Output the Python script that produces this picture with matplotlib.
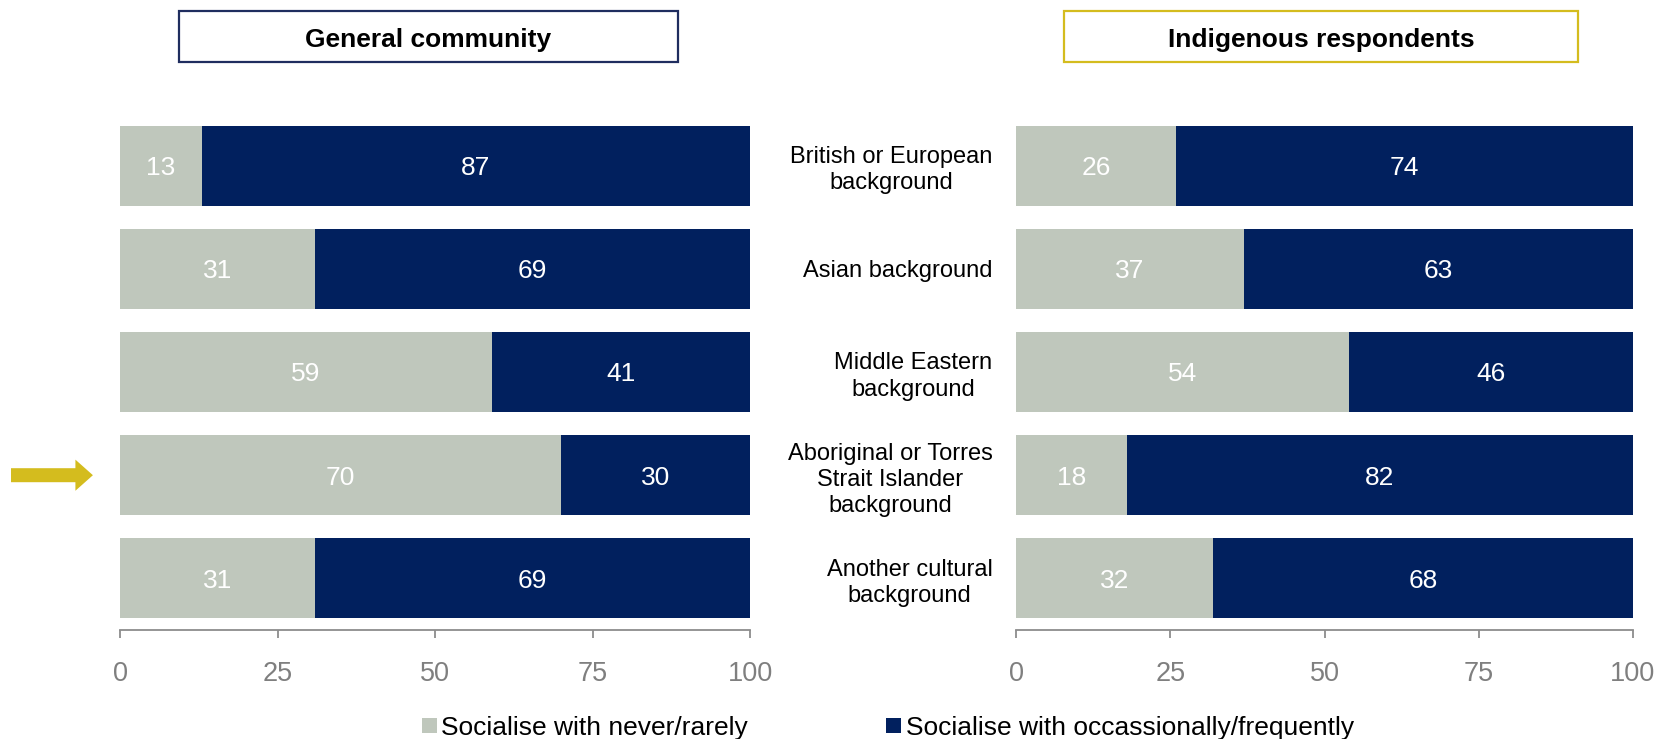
import matplotlib
matplotlib.use("Agg")
import matplotlib.pyplot as plt
from matplotlib.patches import Rectangle

plt.rcParams['font.family'] = ['Liberation Sans', 'DejaVu Sans']

categories = [
    "British or European\nbackground",
    "Asian background",
    "Middle Eastern\nbackground",
    "Aboriginal or Torres\nStrait Islander\nbackground",
    "Another cultural\nbackground",
]
general_never = [13, 31, 59, 70, 31]
general_often = [87, 69, 41, 30, 69]
indigenous_never = [26, 37, 54, 18, 32]
indigenous_often = [74, 63, 46, 82, 68]
xticks = [0, 25, 50, 75, 100]
panel_titles = ["General community", "Indigenous respondents"]
legend_labels = ["Socialise with never/rarely", "Socialise with occassionally/frequently"]

GREY = "#BFC7BC"
NAVY = "#01205E"
GOLD = "#D4BC1E"
AXIS_GREY = "#8C8C8C"

W, H = 1668, 739
fig = plt.figure(figsize=(W / 100, H / 100), dpi=100)


def fx(px):
    return px / W


def fy(py):
    return 1 - py / H


ax_bottom = fy(630)
ax_top = fy(114)
ax_left = fig.add_axes([fx(120), ax_bottom, fx(750) - fx(120), ax_top - ax_bottom])
ax_right = fig.add_axes([fx(1016), ax_bottom, fx(1633) - fx(1016), ax_top - ax_bottom])

y = list(range(len(categories)))
bar_h = 0.776

for ax, never, often in [(ax_left, general_never, general_often),
                         (ax_right, indigenous_never, indigenous_often)]:
    b1 = ax.barh(y, never, height=bar_h, color=GREY)
    b2 = ax.barh(y, often, left=never, height=bar_h, color=NAVY)
    texts = ax.bar_label(b1, labels=[str(v) for v in never], label_type='center',
                         color='white', fontsize=19)
    texts += ax.bar_label(b2, labels=[str(v) for v in often], label_type='center',
                          color='white', fontsize=19)
    for t in texts:
        t.set_verticalalignment('center_baseline')
    ax.set_xlim(0, 100)
    ax.set_ylim(4.5, -0.5)
    ax.set_xticks(xticks)
    ax.set_xticklabels([str(t) for t in xticks])
    for s in ['top', 'right', 'left']:
        ax.spines[s].set_visible(False)
    ax.spines['bottom'].set_color(AXIS_GREY)
    ax.spines['bottom'].set_linewidth(1.3)
    ax.tick_params(axis='x', direction='out', length=5.5, width=1.3,
                   color=AXIS_GREY, labelcolor="#7F7F7F", labelsize=19.5, pad=17)
    ax.tick_params(axis='y', length=0)

ax_left.set_yticks([])
ax_right.set_yticks(y)
ax_right.set_yticklabels(categories, fontsize=17, multialignment='center',
                         linespacing=1.25)
ax_right.tick_params(axis='y', pad=17)

# Arrow highlighting the Aboriginal / Torres Strait Islander row
ax_left.annotate('', xy=(-4.3, 3), xytext=(-17.3, 3), annotation_clip=False,
                 arrowprops=dict(arrowstyle="simple,head_length=0.45,head_width=0.8,tail_width=0.36",
                                 mutation_scale=28, color=GOLD, lw=0,
                                 shrinkA=0, shrinkB=0))

# Panel title boxes
for (x0, x1, col), title in zip([(179, 678, "#1F2D5F"), (1064, 1578, GOLD)], panel_titles):
    fig.patches.append(Rectangle((fx(x0), fy(62)), fx(x1) - fx(x0), fy(11) - fy(62),
                                 transform=fig.transFigure, fill=False,
                                 edgecolor=col, linewidth=1.6))
    fig.text(fx((x0 + x1) / 2), fy(39.5), title, ha='center', va='center',
             fontsize=19, fontweight='bold', color='black')

# Legend
for (sx, tx, col), lab in zip([(422, 441, GREY), (886, 906, NAVY)], legend_labels):
    fig.patches.append(Rectangle((fx(sx), fy(733)), fx(15), fy(718) - fy(733),
                                 transform=fig.transFigure, facecolor=col,
                                 edgecolor='none'))
    fig.text(fx(tx), fy(728), lab, ha='left', va='center', fontsize=19, color='black')

fig.savefig("out.png", dpi=100)
